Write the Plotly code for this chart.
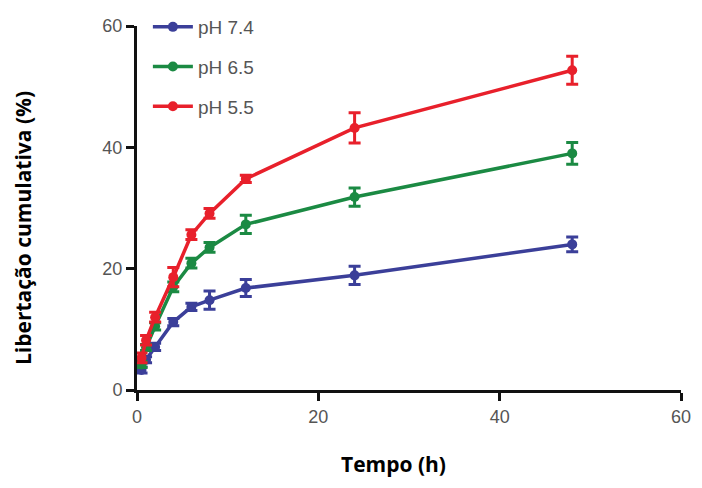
import plotly.graph_objects as go

time_h = [0.5, 1, 2, 4, 6, 8, 12, 24, 48]

ph74 = [3.3, 5.0, 7.1, 11.2, 13.7, 14.8, 16.8, 18.9, 24.0]
ph74_err = [0.5, 0.5, 0.6, 0.6, 0.6, 1.5, 1.4, 1.5, 1.2]

ph65 = [4.2, 7.0, 10.5, 17.0, 20.9, 23.5, 27.3, 31.8, 39.0]
ph65_err = [0.5, 0.5, 0.6, 0.8, 0.8, 0.8, 1.5, 1.5, 1.8]

ph55 = [5.3, 8.2, 12.0, 18.6, 25.6, 29.1, 34.8, 43.2, 52.7]
ph55_err = [0.8, 0.8, 0.8, 1.6, 0.8, 0.8, 0.6, 2.5, 2.3]

series_names = ["pH 7.4", "pH 6.5", "pH 5.5"]
series_values = [ph74, ph65, ph55]
series_errors = [ph74_err, ph65_err, ph55_err]
colors = ["#3b3f99", "#1b8a43", "#e8202b"]

x_ticks = [0, 20, 40, 60]
y_ticks = [0, 20, 40, 60]
x_title = "Tempo (h)"
y_title = "Libertação cumulativa (%)"

fig = go.Figure()
for i, (name, vals, errs, c) in enumerate(zip(series_names, series_values, series_errors, colors)):
    fig.add_trace(go.Scatter(
        x=time_h, y=vals, name=name, mode="lines+markers",
        line=dict(color=c, width=3.5),
        marker=dict(color=c, size=10),
        error_y=dict(type="data", array=errs, color=c, thickness=3, width=6),
        cliponaxis=False, legendgroup=f"g{i}",
    ))

title_font = dict(family="Open Sans, Noto Sans", size=21, color="black")

fig.update_layout(
    width=686, height=472,
    margin=dict(l=129, r=13, t=0, b=90, autoexpand=False),
    paper_bgcolor="white", plot_bgcolor="white",
    showlegend=True,
    legend=dict(x=0.02, y=1.0, xanchor="left", yanchor="top",
                font=dict(family="Liberation Sans, Arial", size=19, color="#555555"),
                bgcolor="rgba(0,0,0,0)", tracegroupgap=12, traceorder="grouped",
                itemwidth=40),
    xaxis=dict(range=[0, 60], tickvals=x_ticks, ticks="outside", ticklen=8, tickwidth=3,
               tickcolor="#111111", showline=True, linecolor="#111111", linewidth=3,
               showgrid=False, zeroline=False, automargin=False, ticklabeloverflow="allow",
               tickfont=dict(family="Liberation Sans, Arial", size=18, color="#555555")),
    yaxis=dict(range=[0, 60], tickvals=y_ticks, ticks="outside", ticklen=8, tickwidth=3,
               domain=[0, 364 / 382],
               tickcolor="#111111", showline=True, linecolor="#111111", linewidth=3,
               showgrid=False, zeroline=False, automargin=False, ticklabeloverflow="allow",
               tickfont=dict(family="Liberation Sans, Arial", size=18, color="#555555")),
    annotations=[
        dict(text=f"<b>{x_title}</b>", xref="paper", yref="paper", x=0.472, y=-0.194,
             xanchor="center", yanchor="middle", showarrow=False, font=title_font),
        dict(text=f"<b>{y_title}</b>", xref="paper", yref="paper", x=-0.2096, y=0.424,
             xanchor="center", yanchor="middle", showarrow=False, textangle=-90,
             font=title_font),
    ],
)

fig.write_html("out.html")
